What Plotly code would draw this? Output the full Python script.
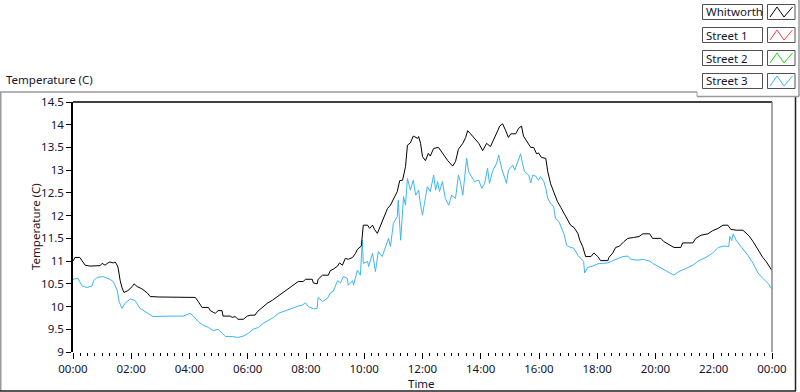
import plotly.graph_objects as go

# ---------------- data (minutes after midnight, temperature in C) -------------
whitworth_min = [0, 4, 14, 19, 25, 35, 56, 60, 66, 72, 76, 83, 87, 91, 93, 97, 101, 105, 113, 122,
                 126, 132, 142, 153, 159, 179, 221, 252, 258, 266, 279, 283, 293, 299, 307, 309, 324,
                 328, 334, 340, 351, 359, 365, 375, 380, 390, 400, 411, 421, 431, 441, 452, 464, 474,
                 479, 493, 495, 503, 505, 514, 526, 530, 536, 545, 549, 555, 561, 567, 576, 582, 586,
                 594, 598, 607, 611, 617, 621, 627, 633, 640, 648, 654, 660, 668, 673, 679, 685, 689,
                 695, 701, 710, 712, 716, 720, 726, 732, 736, 743, 753, 761, 772, 782, 788, 794, 803,
                 809, 813, 819, 829, 836, 844, 852, 860, 866, 875, 879, 885, 891, 897, 902, 912, 918,
                 924, 928, 937, 943, 949, 955, 959, 965, 974, 978, 984, 990, 998, 1005, 1011, 1019,
                 1025, 1032, 1040, 1044, 1050, 1056, 1067, 1073, 1081, 1087, 1102, 1104, 1112, 1118,
                 1126, 1135, 1143, 1155, 1166, 1174, 1188, 1194, 1211, 1217, 1225, 1232, 1238, 1252,
                 1256, 1277, 1283, 1294, 1308, 1318, 1329, 1339, 1349, 1355, 1366, 1380, 1386, 1393,
                 1401, 1407, 1413, 1421, 1428, 1434, 1440]
whitworth_temp = [11.00, 11.08, 11.08, 10.99, 10.91, 10.89, 10.90, 10.95, 10.91, 10.96, 10.98, 10.96,
                  10.98, 10.91, 10.85, 10.58, 10.41, 10.31, 10.35, 10.44, 10.50, 10.44, 10.39, 10.30,
                  10.22, 10.21, 10.20, 10.20, 10.11, 9.98, 9.98, 9.91, 9.85, 9.91, 9.91, 9.79, 9.79,
                  9.76, 9.78, 9.72, 9.72, 9.79, 9.81, 9.81, 9.89, 9.98, 10.07, 10.14, 10.22, 10.29,
                  10.38, 10.47, 10.55, 10.55, 10.60, 10.60, 10.52, 10.50, 10.60, 10.69, 10.69, 10.79,
                  10.82, 10.89, 10.96, 10.91, 11.06, 11.04, 11.08, 11.17, 11.26, 11.33, 11.79, 11.79,
                  11.72, 11.79, 11.70, 11.61, 11.76, 11.94, 12.16, 12.23, 12.36, 12.53, 12.77, 12.78,
                  13.08, 13.55, 13.60, 13.75, 13.70, 13.74, 13.59, 13.30, 13.21, 13.37, 13.31, 13.48,
                  13.50, 13.38, 13.21, 13.09, 13.19, 13.46, 13.59, 13.72, 13.87, 13.80, 13.68, 13.59,
                  13.43, 13.59, 13.52, 13.65, 13.87, 13.97, 14.02, 13.88, 13.72, 13.80, 13.80, 13.92,
                  13.97, 13.75, 13.59, 13.50, 13.50, 13.36, 13.38, 13.28, 13.26, 12.97, 12.70, 12.53,
                  12.31, 12.18, 12.06, 11.90, 11.79, 11.74, 11.61, 11.46, 11.32, 11.10, 11.10, 11.18,
                  11.10, 11.01, 11.01, 11.08, 11.18, 11.30, 11.33, 11.43, 11.50, 11.52, 11.54, 11.60,
                  11.60, 11.50, 11.50, 11.43, 11.38, 11.32, 11.30, 11.30, 11.40, 11.40, 11.50, 11.57,
                  11.60, 11.67, 11.72, 11.79, 11.79, 11.70, 11.68, 11.68, 11.61, 11.55, 11.43, 11.32,
                  11.21, 11.08, 10.99, 10.88, 10.79]

street3_min = [0, 10, 19, 29, 39, 43, 50, 62, 76, 83, 91, 95, 101, 107, 118, 128, 138, 153, 165, 200,
               227, 241, 248, 258, 268, 279, 289, 299, 307, 314, 328, 340, 351, 361, 371, 382, 392,
               402, 413, 423, 433, 444, 454, 464, 472, 479, 485, 495, 503, 505, 514, 524, 530, 536,
               545, 551, 557, 565, 567, 576, 578, 586, 592, 596, 598, 607, 609, 617, 623, 629, 637,
               644, 650, 654, 660, 668, 670, 675, 681, 685, 689, 695, 701, 706, 712, 716, 720, 724,
               730, 736, 743, 747, 751, 755, 761, 767, 774, 780, 788, 794, 798, 803, 811, 815, 821,
               827, 836, 842, 848, 854, 858, 864, 873, 877, 883, 887, 893, 897, 906, 910, 916, 922,
               926, 930, 939, 943, 947, 953, 959, 963, 970, 974, 978, 984, 990, 994, 1001, 1007,
               1011, 1017, 1021, 1032, 1040, 1046, 1052, 1054, 1060, 1071, 1081, 1091, 1102, 1112,
               1122, 1133, 1143, 1149, 1164, 1176, 1180, 1188, 1194, 1207, 1221, 1238, 1248, 1263,
               1277, 1289, 1304, 1318, 1329, 1341, 1351, 1353, 1357, 1360, 1366, 1374, 1382, 1390,
               1401, 1411, 1421, 1432, 1440]
street3_temp = [10.60, 10.62, 10.45, 10.42, 10.45, 10.58, 10.64, 10.66, 10.60, 10.55, 10.36, 10.11,
                9.96, 10.07, 10.17, 10.13, 9.96, 9.85, 9.78, 9.79, 9.79, 9.85, 9.79, 9.67, 9.59, 9.54,
                9.47, 9.50, 9.42, 9.34, 9.34, 9.32, 9.35, 9.41, 9.50, 9.54, 9.63, 9.70, 9.76, 9.85,
                9.89, 9.94, 9.98, 10.01, 10.03, 10.08, 10.00, 9.95, 9.96, 10.20, 10.11, 10.18, 10.30,
                10.33, 10.57, 10.52, 10.66, 10.62, 10.47, 10.57, 10.47, 10.80, 10.69, 11.46, 10.95,
                10.99, 10.88, 11.17, 10.77, 11.21, 11.10, 11.33, 11.50, 11.32, 11.83, 11.98, 12.34,
                11.46, 12.42, 12.23, 12.82, 12.56, 12.78, 12.45, 12.56, 12.23, 12.01, 12.27, 12.64,
                12.53, 12.89, 12.56, 12.75, 12.53, 12.75, 12.38, 12.23, 12.45, 12.38, 12.89, 12.75,
                12.45, 13.26, 12.97, 12.86, 12.75, 12.78, 12.60, 12.71, 13.04, 12.71, 12.97, 13.16,
                13.33, 13.04, 12.89, 12.71, 13.00, 13.11, 13.00, 13.19, 13.36, 13.15, 12.97, 12.89,
                12.72, 12.89, 12.87, 12.78, 12.86, 12.75, 12.60, 12.38, 12.27, 12.20, 11.94, 11.87,
                11.72, 11.61, 11.35, 11.32, 11.28, 11.13, 11.06, 10.99, 10.74, 10.86, 10.89, 10.94,
                10.95, 10.96, 11.01, 11.06, 11.10, 11.11, 11.04, 11.02, 11.04, 11.02, 11.00, 10.95,
                10.88, 10.79, 10.69, 10.77, 10.84, 10.91, 11.01, 11.08, 11.18, 11.30, 11.33, 11.32,
                11.54, 11.45, 11.60, 11.46, 11.35, 11.24, 11.13, 10.95, 10.74, 10.62, 10.51, 10.38]

street1_min, street1_temp = [], []
street2_min, street2_temp = [], []

series_names = ["Whitworth", "Street 1", "Street 2", "Street 3"]
series_colors = ["#000000", "#ff3c3c", "#1ed21e", "#3cb6f4"]

tick_minutes = list(range(0, 1441, 120))
tick_labels = ["00:00", "02:00", "04:00", "06:00", "08:00", "10:00", "12:00",
               "14:00", "16:00", "18:00", "20:00", "22:00", "00:00"]

# ---------------- figure ------------------------------------------------------
W, H = 800, 392
L, R, T, B = 73, 772, 102, 352
FONT = "Noto Sans"
FS = 11.5
TXT = "#14142e"


def px(x):
    return (x - L) / (R - L)


def py(y):
    return (B - y) / (B - T)


fig = go.Figure()
data = [(whitworth_min, whitworth_temp), (street1_min, street1_temp),
        (street2_min, street2_temp), (street3_min, street3_temp)]
# draw Whitworth on top of Street 3
for idx in [3, 1, 2, 0]:
    xs, ys = data[idx]
    fig.add_trace(go.Scatter(x=xs, y=ys, mode="lines", name=series_names[idx],
                             line=dict(color=series_colors[idx], width=1),
                             showlegend=False, hoverinfo="skip"))

shapes = []
annotations = []

# plot borders: top black, right gray
shapes.append(dict(type="line", xref="paper", yref="paper", x0=0, x1=1, y0=1, y1=1,
                   line=dict(color="#000000", width=1.5)))
shapes.append(dict(type="line", xref="paper", yref="paper", x0=1, x1=1, y0=0, y1=1,
                   line=dict(color="#8a8a8a", width=1.5)))

# outer frame
shapes.append(dict(type="line", xref="paper", yref="paper", x0=px(0.75), x1=px(0.75), y0=py(92), y1=py(391),
                   line=dict(color="#9a9a9a", width=1.5)))
shapes.append(dict(type="line", xref="paper", yref="paper", x0=px(0), x1=px(697), y0=py(92), y1=py(92),
                   line=dict(color="#9a9a9a", width=1.5)))
shapes.append(dict(type="line", xref="paper", yref="paper", x0=px(0), x1=px(796), y0=py(391), y1=py(391),
                   line=dict(color="#202020", width=1.5)))
shapes.append(dict(type="line", xref="paper", yref="paper", x0=px(795.5), x1=px(795.5), y0=py(97), y1=py(391),
                   line=dict(color="#202020", width=1.5)))
# legend frame
shapes.append(dict(type="line", xref="paper", yref="paper", x0=px(697), x1=px(697), y0=py(92), y1=py(96.5),
                   line=dict(color="#9a9a9a", width=1)))
shapes.append(dict(type="line", xref="paper", yref="paper", x0=px(697), x1=px(799), y0=py(96.5), y1=py(96.5),
                   line=dict(color="#9a9a9a", width=1.5)))
shapes.append(dict(type="line", xref="paper", yref="paper", x0=px(799), x1=px(799), y0=py(0), y1=py(96.5),
                   line=dict(color="#9a9a9a", width=1.5)))

# legend entries
for i, (name, col) in enumerate(zip(series_names, series_colors)):
    top = 4.5 + i * 23
    bot = top + 15
    shapes.append(dict(type="rect", xref="paper", yref="paper", x0=px(702.5), x1=px(762.5),
                       y0=py(bot), y1=py(top), line=dict(color="#505050", width=1),
                       fillcolor="#ffffff"))
    shapes.append(dict(type="rect", xref="paper", yref="paper", x0=px(767.5), x1=px(795),
                       y0=py(bot), y1=py(top), line=dict(color="#505050", width=1),
                       fillcolor="#ffffff"))
    pts = [(770, bot - 2.5), (777, top + 2.5), (784, bot - 2.5), (792.5, top + 2.5)]
    path = "M " + " L ".join(f"{px(a):.5f},{py(b):.5f}" for a, b in pts)
    shapes.append(dict(type="path", xref="paper", yref="paper", path=path,
                       line=dict(color=col, width=1)))
    annotations.append(dict(text=name, xref="paper", yref="paper", x=px(704), y=py((top + bot) / 2),
                            xanchor="left", yanchor="middle", showarrow=False,
                            font=dict(family=FONT, size=FS, color=TXT)))

# titles
annotations.append(dict(text="Temperature (C)", xref="paper", yref="paper", x=px(4), y=py(80),
                        xanchor="left", yanchor="middle", showarrow=False,
                        font=dict(family=FONT, size=FS, color=TXT)))
annotations.append(dict(text="Temperature (C)", xref="paper", yref="paper", x=px(35), y=py(227),
                        xanchor="center", yanchor="middle", textangle=-90, showarrow=False,
                        font=dict(family=FONT, size=FS, color="#2a1414")))
annotations.append(dict(text="Time", xref="paper", yref="paper", x=px(421), y=py(383),
                        xanchor="center", yanchor="middle", showarrow=False,
                        font=dict(family=FONT, size=FS, color=TXT)))

fig.update_layout(
    width=W, height=H,
    margin=dict(l=L, r=W - R, t=T, b=H - B, pad=0),
    paper_bgcolor="#ffffff", plot_bgcolor="#ffffff",
    shapes=shapes, annotations=annotations,
    font=dict(family=FONT, size=FS, color=TXT),
    xaxis=dict(range=[0, 1440], tickvals=tick_minutes, ticktext=tick_labels,
               ticks="outside", ticklen=6, tickwidth=1, tickcolor="#000000",
               minor=dict(dtick=15, tick0=0, ticks="outside", ticklen=3, tickwidth=1,
                          tickcolor="#000000", showgrid=False),
               showgrid=False, zeroline=False, showline=False,
               tickfont=dict(family=FONT, size=FS, color=TXT)),
    yaxis=dict(range=[9, 14.5], dtick=0.5, tick0=9, ticks="outside", ticklen=5,
               tickwidth=1, tickcolor="#000000", showgrid=False, zeroline=False,
               showline=True, linecolor="#000000", linewidth=1.5,
               tickfont=dict(family=FONT, size=FS, color=TXT)),
)

fig.write_html("out.html", config={"displayModeBar": False},
               post_script="document.body.style.margin='0';document.body.style.overflow='hidden';")
